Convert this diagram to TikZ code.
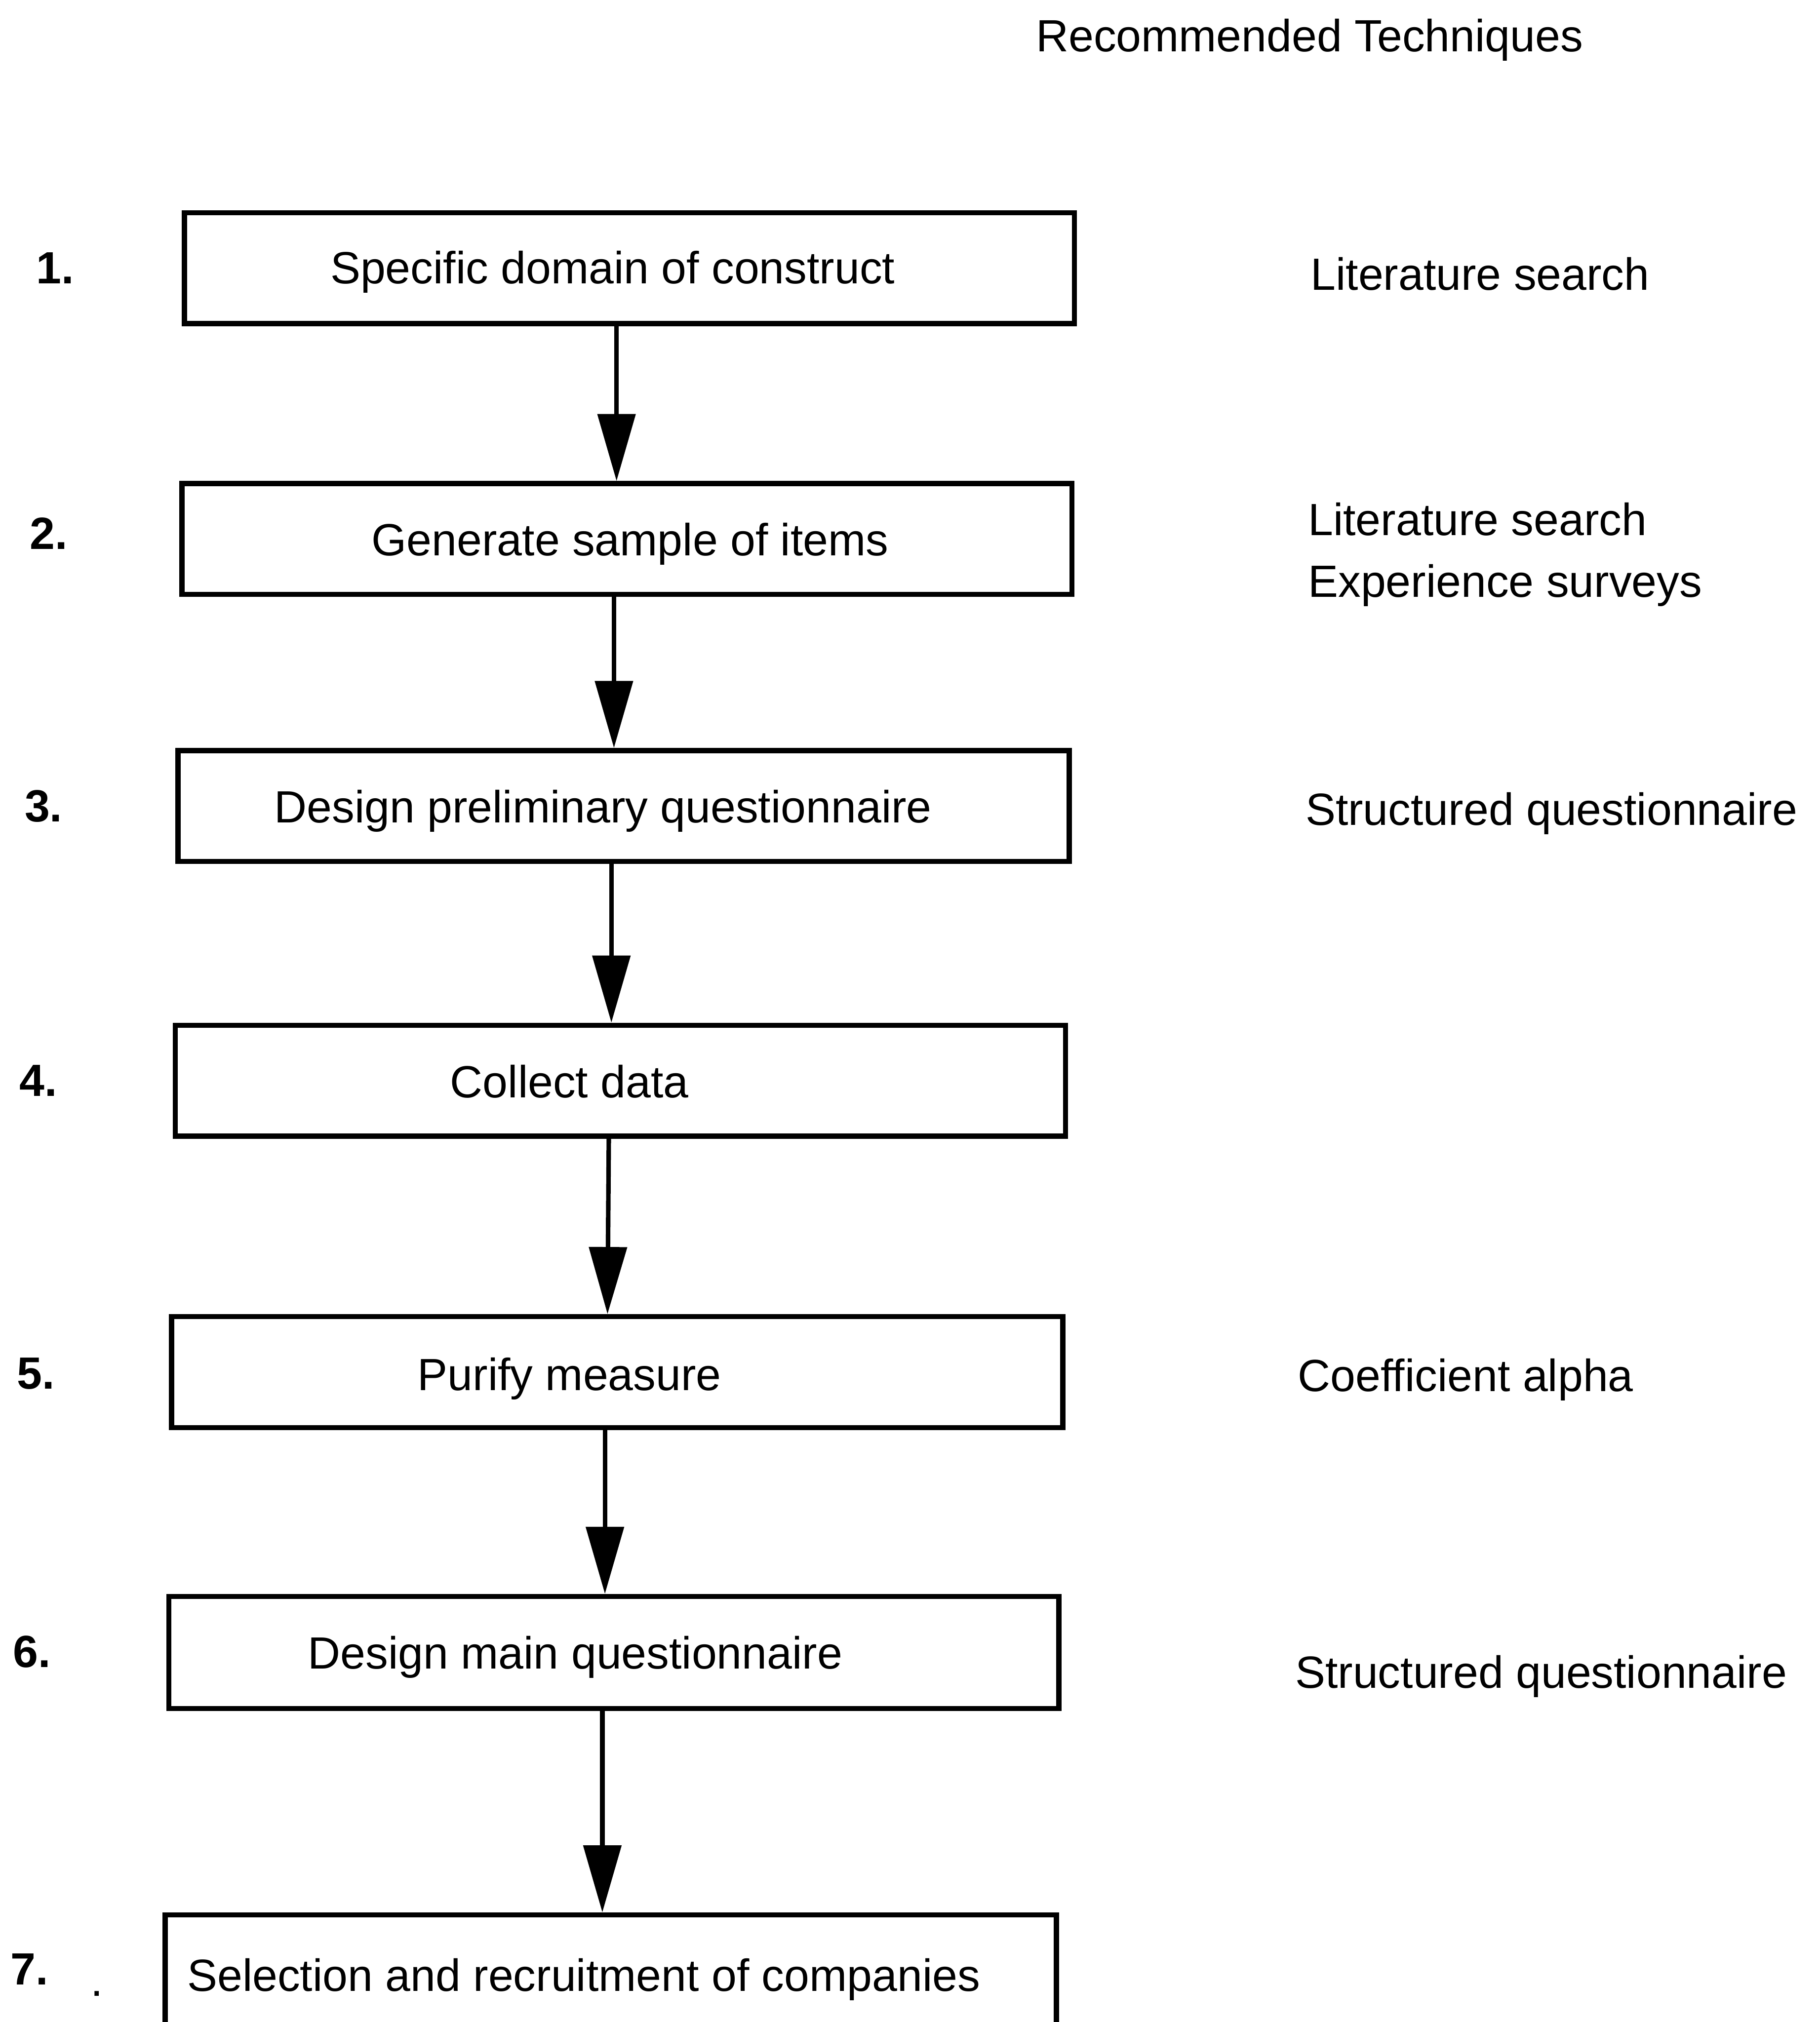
\documentclass[tikz,border=0pt]{standalone}
\usepackage{fontspec}
\setmainfont{Liberation Sans}
\usetikzlibrary{arrows.meta}
\tikzset{
  stepbox/.style={draw, line width=4pt, minimum width=690pt, minimum height=86pt, inner sep=0pt},
  flow/.style={line width=3.5pt, -{Triangle[length=52pt,width=29pt]}},
  txt/.style={font=\fontsize{35}{42}\selectfont, inner sep=0pt, anchor=base west},
  ctxt/.style={font=\fontsize{35}{42}\selectfont, inner sep=0pt, anchor=base},
  num/.style={font=\fontsize{35}{42}\selectfont\bfseries, inner sep=0pt, anchor=base west}
}
\begin{document}
\begin{tikzpicture}[x=1pt,y=-1pt]
\useasboundingbox (0,0) rectangle (1411,1568);
\clip (0,0) rectangle (1411,1568);
% header
\node[txt] (hdr) at (803,40) {Recommended Techniques};
% boxes
\node[stepbox] (b1) at (488,208) {};
\node[stepbox] (b2) at (486,418) {};
\node[stepbox, minimum width=691pt] (b3) at (483.5,625) {};
\node[stepbox] (b4) at (481,838) {};
\node[stepbox, minimum width=691pt] (b5) at (478.5,1064) {};
\node[stepbox, minimum height=87pt] (b6) at (476,1281.5) {};
\node[stepbox, minimum width=691pt, minimum height=200pt] (b7) at (473.5,1585) {};
% box texts
\node[ctxt] (t1) at (475,220) {Specific domain of construct};
\node[ctxt] (t2) at (488.5,431) {Generate sample of items};
\node[ctxt] (t3) at (467.5,638) {Design preliminary questionnaire};
\node[ctxt] (t4) at (441.5,851) {Collect data};
\node[ctxt] (t5) at (441.5,1078) {Purify measure};
\node[ctxt] (t6) at (446,1294) {Design main questionnaire};
\node[txt] (t7) at (145,1544) {Selection and recruitment of companies};
% numbers
\node[num] (n1) at (28,220) {1.};
\node[num] (n2) at (23,426) {2.};
\node[num] (n3) at (19,637) {3.};
\node[num] (n4) at (15,850) {4.};
\node[num] (n5) at (13,1077) {5.};
\node[num] (n6) at (10,1293) {6.};
\node[num] (n7) at (8,1539) {7.};
\node[txt] (n7dot) at (70,1548) {.};
% techniques
\node[txt] (r1) at (1016,225) {Literature search};
\node[txt] (r2a) at (1014,415) {Literature search};
\node[txt] (r2b) at (1014,463) {Experience surveys};
\node[txt] (r3) at (1012,640) {Structured questionnaire};
\node[txt] (r5) at (1006,1079) {Coefficient alpha};
\node[txt] (r6) at (1004,1309) {Structured questionnaire};
% arrows
\draw[flow] ([xshift=-10pt]b1.south) -- ([xshift=-8pt]b2.north);
\draw[flow] ([xshift=-10pt]b2.south) -- ([xshift=-7.5pt]b3.north);
\draw[flow] ([xshift=-9.5pt]b3.south) -- ([xshift=-7pt]b4.north);
\draw[flow] ([xshift=-9pt]b4.south) -- ([xshift=-7.5pt]b5.north);
\draw[flow] ([xshift=-9.5pt]b5.south) -- ([xshift=-7pt]b6.north);
\draw[flow] ([xshift=-9pt]b6.south) -- ([xshift=-6.5pt]b7.north);
\end{tikzpicture}
\end{document}
